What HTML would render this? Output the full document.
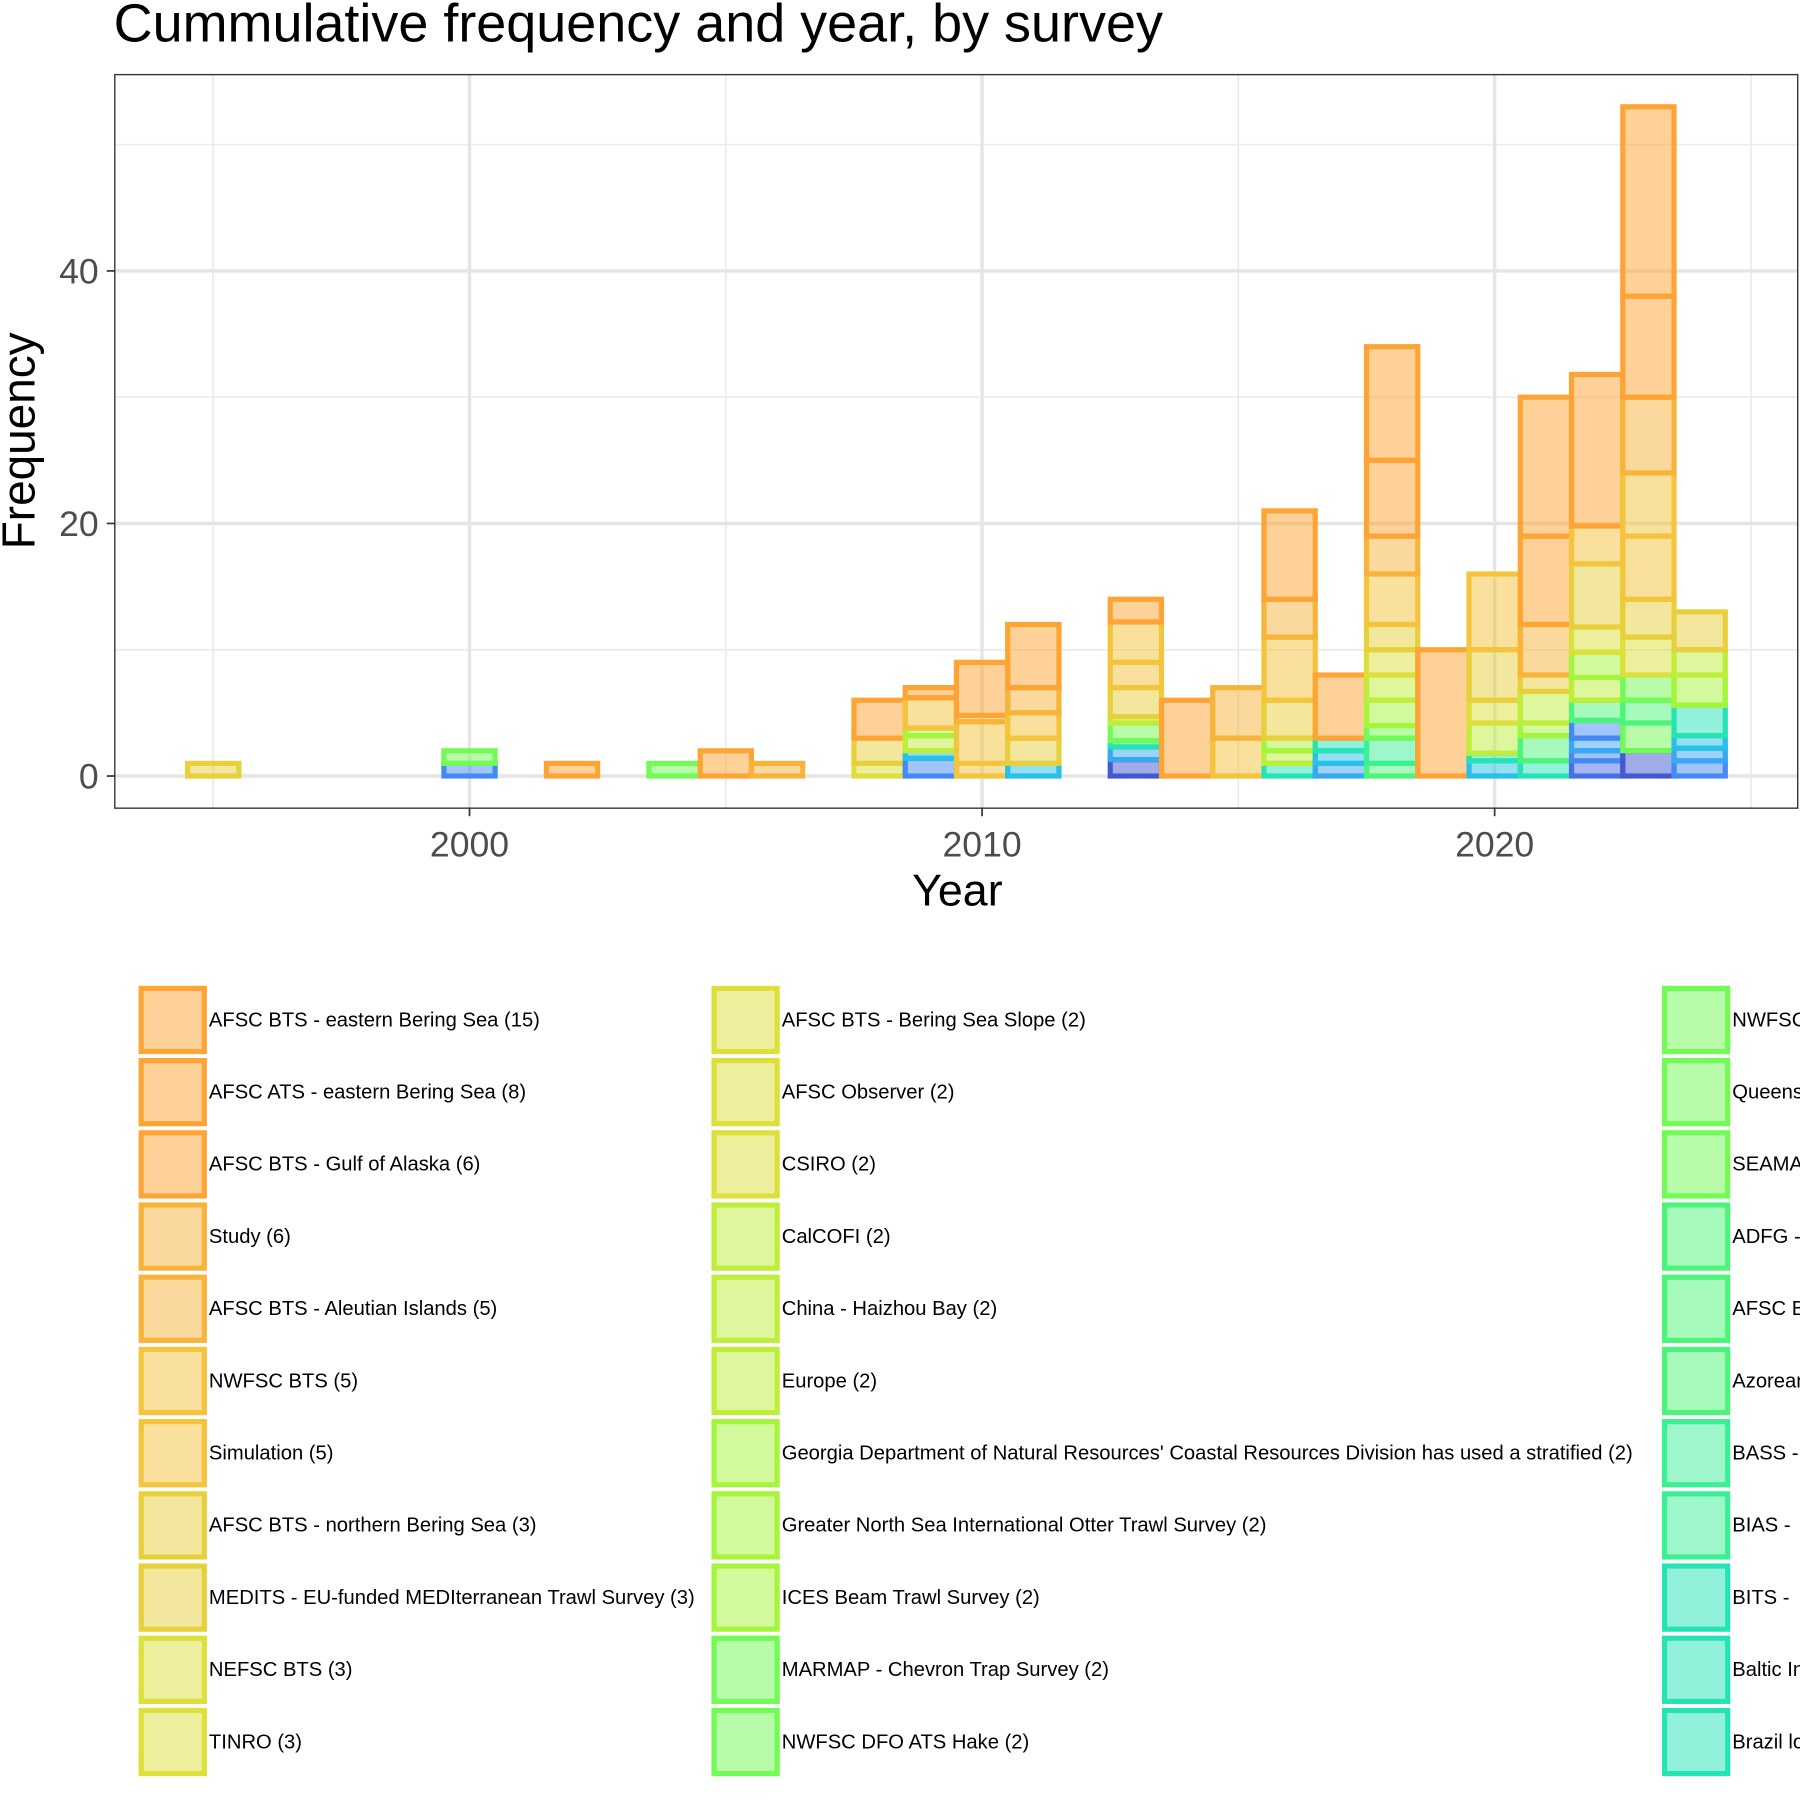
<!DOCTYPE html>
<html><head><meta charset="utf-8"><style>
html,body{margin:0;padding:0;background:#fff;overflow:hidden}
svg{display:block;font-family:"Liberation Sans",Arial,sans-serif}
</style></head><body>
<svg id="chart" width="1800" height="1800" viewBox="0 0 1568 1568" xmlns="http://www.w3.org/2000/svg">
<rect x="0" y="0" width="1568" height="1568" fill="#fff"/>
<text x="99" y="36" font-size="47" fill="#000">Cummulative frequency and year, by survey</text>
<g id="grid"></g>
<g id="bars"></g>
<rect x="100" y="65" width="1466" height="639" fill="none" stroke="#333" stroke-width="1.2"/>
<g id="axes"></g>
<text x="834" y="789" font-size="39" text-anchor="middle" fill="#000">Year</text>
<text transform="translate(30,384) rotate(-90)" font-size="40" text-anchor="middle" fill="#000">Frequency</text>
<g id="legend"></g>
</svg>
<script>
const years = [1995,2000,2002,2004,2005,2006,2008,2009,2010,2011,2013,2014,2015,2016,2017,2018,2019,2020,2021,2022,2023,2024];
const stackCounts = [
 [1],[1,1],[1],[1],[2],[1],[1,2,3],
 [1.4,0.6,1.2,0.6,2.4,0.8],
 [1,3.3,0.5,4.2],
 [1,2,2,2,5],
 [1.3,1,0.5,1.4,0.5,2.3,2,3.2,1.8],
 [6],[3,4],
 [1,1,1,3,5,3,7],
 [1,1,1,5],
 [1,2,1,2,2,2,2,4,3,6,9],
 [10],
 [1.2,0.6,2.4,1.8,4,6],
 [1.2,2,1,2.5,1.3,4,7,11],
 [1.2,0.8,1,1.4,1.6,1.8,2,2,5,3,12],
 [2,2.2,1.8,2,3,3,5,5,6,8,15],
 [1.2,1,1,2.4,2.4,2,3]
];
const stackColors = [
 ['Y'],['BL','G'],['O'],['G'],['O'],['OY'],['YL','Y','O'],
 ['BL','C','L','LG','YO','O'],
 ['YO','YO','OY','O'],
 ['C','Y','YO','OY','O'],
 ['I','B','T','G','L','Y','YO','YO','O'],
 ['O'],['YO','OY'],
 ['T','L','LG','Y','YO','OY','O'],
 ['B','C','T','O'],
 ['SG','SP','G','LG','L','YL','Y','YO','OY','O','O'],
 ['O'],
 ['C','T','L','YL','Y','YO'],
 ['T','SG','LG','L','Y','OY','O','O'],
 ['RB','BL','B','BL','SG','L','LG','YL','Y','YO','O'],
 ['I','G','SG','G','YL','Y','YO','YO','OY','O','O'],
 ['BL','B','C','T','LG','L','Y']
];
const xTicks = [2000,2010,2020];
const xMinor = [1995,2005,2015,2025];
const yTicks = [0,20,40];
const yMinor = [10,30,50];
const legendCol1 = ["AFSC BTS - eastern Bering Sea (15)","AFSC ATS - eastern Bering Sea (8)","AFSC BTS - Gulf of Alaska (6)","Study (6)","AFSC BTS - Aleutian Islands (5)","NWFSC BTS (5)","Simulation (5)","AFSC BTS - northern Bering Sea (3)","MEDITS - EU-funded MEDIterranean Trawl Survey (3)","NEFSC BTS (3)","TINRO (3)"];
const legendCol2 = ["AFSC BTS - Bering Sea Slope (2)","AFSC Observer (2)","CSIRO (2)","CalCOFI (2)","China - Haizhou Bay (2)","Europe (2)","Georgia Department of Natural Resources' Coastal Resources Division has used a stratified (2)","Greater North Sea International Otter Trawl Survey (2)","ICES Beam Trawl Survey (2)","MARMAP - Chevron Trap Survey (2)","NWFSC DFO ATS Hake (2)"];
const legendCol3 = ["NWFSC","Queensland","SEAMAP","ADFG -","AFSC BTS","Azorean","BASS -","BIAS -","BITS -","Baltic International","Brazil long"];
const legendColors1 = ['O','O','O','OY','OY','YO','YO','Y','Y','YL','YL'];
const legendColors2 = ['YL','YL','YL','L','L','L','LG','LG','LG','G','G'];
const legendColors3 = ['G','G','G','SG','SG','SG','SP','SP','T','T','T'];

const PAL = {O:'#FDA434',OY:'#F8B43A',YO:'#F3C43C',Y:'#E8D03C',YL:'#DDE03A',L:'#BEEE3A',LG:'#A5F53C',G:'#72FA55',SG:'#4CF57A',SP:'#3BEF95',T:'#26E3B5',TC:'#22D6D0',C:'#27C0E8',B:'#38A8F5',BL:'#448AF5',RB:'#4A70E8',I:'#4458D0'};
const NS='http://www.w3.org/2000/svg';
function xs(v){return 409+(v-2000)*44.65;}
function ys(v){return 676-v*11;}
function mk(tag,attrs,parent){const e=document.createElementNS(NS,tag);for(const k in attrs)e.setAttribute(k,attrs[k]);parent.appendChild(e);return e;}
const grid=document.getElementById('grid'),bars=document.getElementById('bars'),axes=document.getElementById('axes'),legend=document.getElementById('legend');
xMinor.forEach(v=>{const l=mk('line',{x1:xs(v),x2:xs(v),y1:65,y2:704,stroke:'#ebebeb','stroke-width':1.5},grid);

});
yMinor.forEach(v=>{const l=mk('line',{x1:100,x2:1566,y1:ys(v),y2:ys(v),stroke:'#ebebeb','stroke-width':1.5},grid);

});
xTicks.forEach(v=>{const l=mk('line',{x1:xs(v),x2:xs(v),y1:65,y2:704,stroke:'#e5e5e5','stroke-width':3},grid);


const t=mk('line',{x1:xs(v),x2:xs(v),y1:704,y2:711,stroke:'#333','stroke-width':1.5},axes);


const tx=mk('text',{x:xs(v),y:746,'font-size':31,'text-anchor':'middle',fill:'#4d4d4d'},axes);tx.textContent=v;

});
yTicks.forEach(v=>{const l=mk('line',{x1:100,x2:1566,y1:ys(v),y2:ys(v),stroke:'#e5e5e5','stroke-width':3},grid);


const t=mk('line',{x1:93,x2:100,y1:ys(v),y2:ys(v),stroke:'#333','stroke-width':1.5},axes);


const tx=mk('text',{x:86,y:ys(v)+11,'font-size':31,'text-anchor':'end',fill:'#4d4d4d'},axes);tx.textContent=v;

});
years.forEach((yr,i)=>{let base=0;stackCounts[i].forEach((c,j)=>{const col=PAL[stackColors[i][j]];
const r=mk('rect',{x:xs(yr-0.5),y:ys(base+c),width:xs(yr+0.5)-xs(yr-0.5),height:c*11,fill:col,'fill-opacity':0.5,stroke:col,'stroke-width':4.5},bars);


base+=c;});});
[[legendCol1,legendColors1,121],[legendCol2,legendColors2,620],[legendCol3,legendColors3,1448]].forEach(([labels,cols,x0])=>{
labels.forEach((lab,k)=>{const cy=888+k*62.9;const col=PAL[cols[k]];
const r=mk('rect',{x:x0+2,y:cy-27,width:55,height:55,fill:col,'fill-opacity':0.5,stroke:col,'stroke-width':4.5},legend);


const t=mk('text',{x:x0+61,y:cy+6,'font-size':17.6,fill:'#000'},legend);t.textContent=lab;

});});
</script>
</body></html>
